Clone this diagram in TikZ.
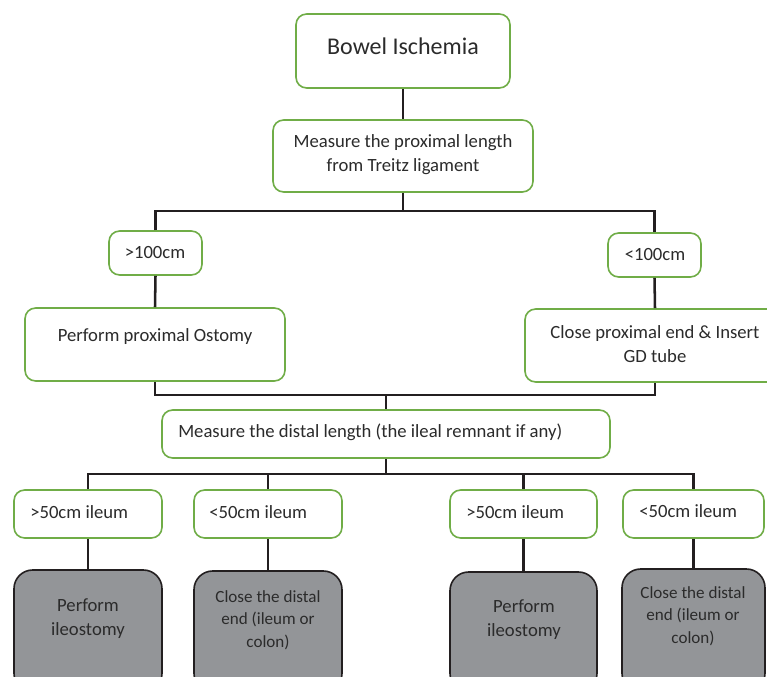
\documentclass[tikz,border=0pt]{standalone}
\usepackage{fontspec}
\setmainfont{Carlito}
\usetikzlibrary{fit}
\definecolor{boxgreen}{HTML}{70AD47}
\definecolor{linedark}{HTML}{231F20}
\definecolor{boxgray}{HTML}{939598}
\definecolor{txtdark}{HTML}{2B2B2B}
\tikzset{
  gbox/.style={draw=boxgreen, line width=1.2pt, fill=white, rounded corners=8pt, inner sep=0pt},
  graybox/.style={draw=linedark, line width=1.2pt, fill=boxgray, rounded corners=14pt, inner sep=0pt},
  conn/.style={draw=linedark, line width=1.9pt},
  txt/.style={inner sep=0pt, text=txtdark, font=\fontsize{14}{18}\selectfont, align=center},
  bigtxt/.style={inner sep=0pt, text=txtdark, font=\fontsize{18}{22}\selectfont},
  smalltxt/.style={inner sep=0pt, text=txtdark, font=\fontsize{12.8}{16.8}\selectfont, align=center},
}
\begin{document}
\begin{tikzpicture}[x=0.75pt,y=-0.75pt]
\useasboundingbox (0,0) rectangle (767,677);
\clip (0,0) rectangle (767,677);
\fill[white] (0,0) rectangle (767,677);

% junction points
\coordinate (j1) at (403,211);
\coordinate (j2) at (386,395);
\coordinate (j3) at (386,474);

% connectors (drawn first, boxes cover ends)
\node[gbox, fit={(296,14) (510,88)}] (bowel) {};
\node[gbox, fit={(273,120) (533,192)}] (mprox) {};
\node[gbox, fit={(109,231) (202,275)}] (g100) {};
\node[gbox, fit={(608,233) (701,277)}] (l100) {};
\node[gbox, fit={(25,308) (285,381)}] (pprox) {};
\node[gbox, fit={(525,309) (785,382)}] (cprox) {};
\node[gbox, fit={(162,410) (610,458)}] (mdist) {};
\node[gbox, fit={(14,490) (162,538)}] (a1) {};
\node[gbox, fit={(194,490) (342,538)}] (a2) {};
\node[gbox, fit={(450,490) (597,538)}] (a3) {};
\node[gbox, fit={(623,490) (764,538)}] (a4) {};
\node[graybox, fit={(14,570) (162,692)}] (b1) {};
\node[graybox, fit={(194,571) (342,692)}] (b2) {};
\node[graybox, fit={(450,572) (597,692)}] (b3) {};
\node[graybox, fit={(622,569) (765,692)}] (b4) {};

\draw[conn] (bowel.south) -- (mprox.north);
\draw[conn] (mprox.south) -- (j1);
\draw[conn] (g100.north) |- (j1) -| (l100.north);
\draw[conn] (g100.south) -- (pprox.north);
\draw[conn] (l100.south) -- (cprox.north);
\draw[conn] (pprox.south) |- (j2) -| (cprox.south);
\draw[conn] (j2) -- (mdist.north);
\draw[conn] (mdist.south) -- (j3);
\draw[conn] (a1.north) |- (j3) -| (a4.north);
\draw[conn] (a2.north) |- (j3);
\draw[conn] (a3.north) |- (j3);
\draw[conn] (a1.south) -- (b1.north);
\draw[conn] (a2.south) -- (b2.north);
\draw[conn] (a3.south) -- (b3.north);
\draw[conn] (a4.south) -- (b4.north);

% texts
\node[bigtxt] (tbowel) at (403,46) {Bowel Ischemia};
\node[txt] (tmprox) at (403,155) {Measure the proximal length\\from Treitz ligament};
\node[txt] (tg100) at (155,253) {>100cm};
\node[txt] (tl100) at (655,255) {<100cm};
\node[txt] (tpprox) at (155,337) {Perform proximal Ostomy};
\node[txt] (tcprox) at (655,344) {Close proximal end \& Insert\\GD tube};
\node[txt, anchor=west] (tmdist) at (178,432) {Measure the distal length (the ileal remnant if any)};
\node[txt, anchor=west] (ta1) at (30,512) {>50cm ileum};
\node[txt, anchor=west] (ta2) at (209,512) {<50cm ileum};
\node[txt, anchor=west] (ta3) at (466,512) {>50cm ileum};
\node[txt, anchor=west] (ta4) at (639,511) {<50cm ileum};
\node[txt] (tb1) at (88,619) {Perform\\ileostomy};
\node[smalltxt] (tb2) at (268,620) {Close the distal\\end (ileum or\\colon)};
\node[txt] (tb3) at (524,620) {Perform\\ileostomy};
\node[smalltxt] (tb4) at (693,616) {Close the distal\\end (ileum or\\colon)};
\end{tikzpicture}
\end{document}
